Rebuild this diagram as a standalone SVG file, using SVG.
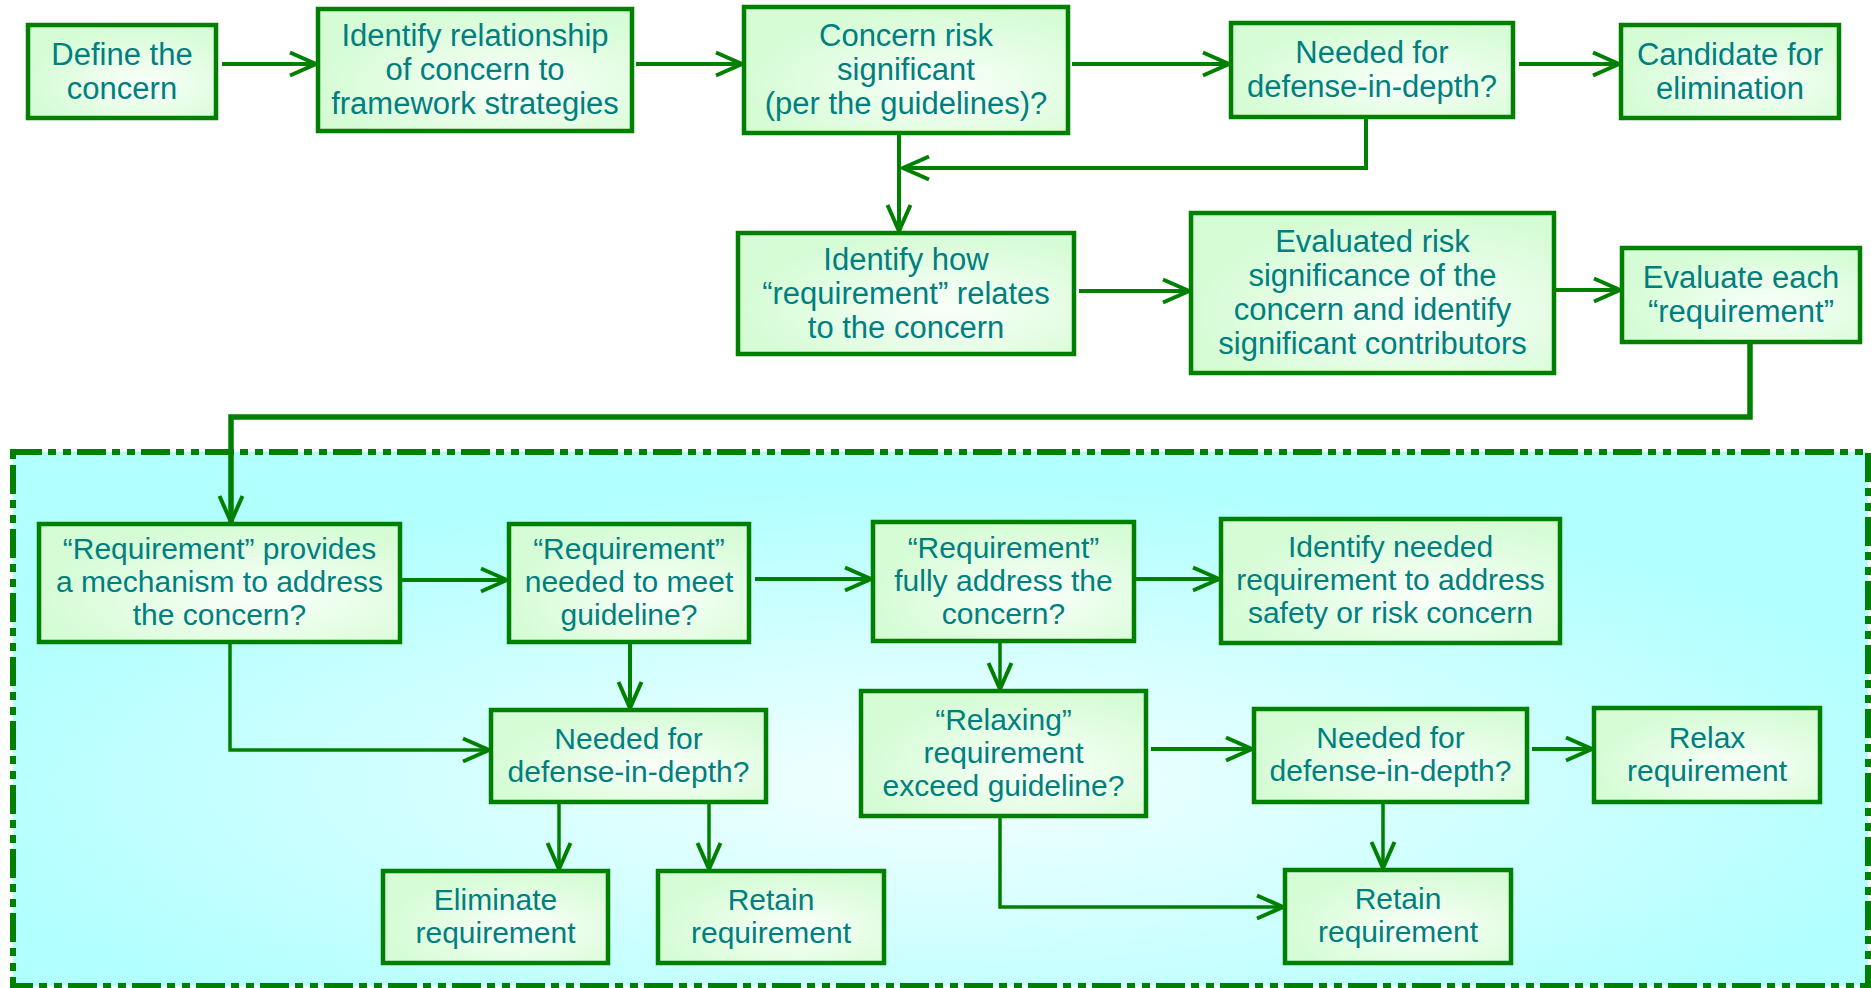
<svg xmlns="http://www.w3.org/2000/svg" width="1871" height="988" viewBox="0 0 1871 988">
<defs>
<radialGradient id="gNode" cx="0.62" cy="0.62" r="0.6">
<stop offset="0" stop-color="#fafffa"/>
<stop offset="1" stop-color="#d6fcd6"/>
</radialGradient>
<radialGradient id="gBox" cx="0.5" cy="0.62" r="0.55">
<stop offset="0" stop-color="#f4ffff"/>
<stop offset="1" stop-color="#b2ffff"/>
</radialGradient>
<marker id="arr" viewBox="0 0 28 24" refX="27" refY="12" markerWidth="28" markerHeight="24" markerUnits="userSpaceOnUse" orient="auto" overflow="visible">
<path d="M1,0.5 L27,12 L1,23.5" fill="none" stroke="#008000" stroke-width="4"/>
</marker>
</defs>
<style>
.n rect{fill:url(#gNode);stroke:#008000;stroke-width:4.5}
.n text{font-family:"Liberation Sans",Arial,sans-serif;font-size:31px;fill:#007f7f;text-anchor:middle}
.b text{font-size:30px}
.c path{fill:none;stroke:#008000;stroke-width:4;marker-end:url(#arr)}
.c path.thin{stroke-width:3.5}
.c path.thick{stroke-width:5.5}
</style>
<rect width="1871" height="988" fill="#ffffff"/>
<g id="container">
<rect x="13" y="452" width="1855" height="534" fill="url(#gBox)" stroke="#008000" stroke-width="6" stroke-dasharray="29 6 8 7 8 6"/>
</g>
<g id="connectors" class="c">
<path d="M222,64 H316"/>
<path d="M636,64 H742"/>
<path d="M1072,64 H1229"/>
<path d="M1519,64 H1619"/>
<path d="M1366,119 V168 H903"/>
<path d="M899,133 V231"/>
<path d="M1079,291 H1189"/>
<path d="M1556,290 H1620"/>
<path class="thick" d="M1750,342 V417 H231 V522"/>
<path d="M402,580 H507"/>
<path d="M755,579 H871"/>
<path d="M1136,579 H1219"/>
<path d="M630,644 V708"/>
<path class="thin" d="M230,644 V750 H489"/>
<path class="thin" d="M559,804 V869"/>
<path class="thin" d="M709,804 V869"/>
<path class="thin" d="M1000,643 V689"/>
<path d="M1151,749 H1252"/>
<path d="M1532,749 H1592"/>
<path class="thin" d="M1383,804 V868"/>
<path class="thin" d="M1000,818 V907 H1283"/>
</g>
<g id="n1" class="n"><rect x="28" y="25" width="188" height="93"/>
<text x="122" y="64.5">Define the</text><text x="122" y="98.5">concern</text></g>
<g id="n2" class="n"><rect x="318" y="9" width="314" height="122"/>
<text x="475" y="46">Identify relationship</text><text x="475" y="80">of concern to</text><text x="475" y="114">framework strategies</text></g>
<g id="n3" class="n"><rect x="744" y="7" width="324" height="126"/>
<text x="906" y="46">Concern risk</text><text x="906" y="80">significant</text><text x="906" y="114">(per the guidelines)?</text></g>
<g id="n4" class="n"><rect x="1231" y="23" width="282" height="94"/>
<text x="1372" y="63">Needed for</text><text x="1372" y="97">defense-in-depth?</text></g>
<g id="n5" class="n"><rect x="1621" y="25" width="218" height="93"/>
<text x="1730" y="64.5">Candidate for</text><text x="1730" y="98.5">elimination</text></g>
<g id="n6" class="n"><rect x="738" y="233" width="336" height="121"/>
<text x="906" y="270">Identify how</text><text x="906" y="304">“requirement” relates</text><text x="906" y="338">to the concern</text></g>
<g id="n7" class="n"><rect x="1191" y="213" width="363" height="160"/>
<text x="1372.5" y="252">Evaluated risk</text><text x="1372.5" y="286">significance of the</text><text x="1372.5" y="320">concern and identify</text><text x="1372.5" y="354">significant contributors</text></g>
<g id="n8" class="n"><rect x="1622" y="248" width="238" height="94"/>
<text x="1741" y="288">Evaluate each</text><text x="1741" y="322">“requirement”</text></g>
<g id="n9" class="n b"><rect x="39" y="524" width="361" height="118"/>
<text x="219.5" y="559">“Requirement” provides</text><text x="219.5" y="592">a mechanism to address</text><text x="219.5" y="625">the concern?</text></g>
<g id="n10" class="n b"><rect x="509" y="524" width="240" height="118"/>
<text x="629" y="559">“Requirement”</text><text x="629" y="592">needed to meet</text><text x="629" y="625">guideline?</text></g>
<g id="n11" class="n b"><rect x="873" y="522" width="261" height="119"/>
<text x="1003.5" y="557.5">“Requirement”</text><text x="1003.5" y="590.5">fully address the</text><text x="1003.5" y="623.5">concern?</text></g>
<g id="n12" class="n b"><rect x="1221" y="519" width="339" height="124"/>
<text x="1390.5" y="557">Identify needed</text><text x="1390.5" y="590">requirement to address</text><text x="1390.5" y="623">safety or risk concern</text></g>
<g id="n13" class="n b"><rect x="491" y="710" width="275" height="92"/>
<text x="628.5" y="748.5">Needed for</text><text x="628.5" y="781.5">defense-in-depth?</text></g>
<g id="n14" class="n b"><rect x="861" y="691" width="285" height="125"/>
<text x="1003.5" y="729.5">“Relaxing”</text><text x="1003.5" y="762.5">requirement</text><text x="1003.5" y="795.5">exceed guideline?</text></g>
<g id="n15" class="n b"><rect x="1254" y="709" width="273" height="93"/>
<text x="1390.5" y="748">Needed for</text><text x="1390.5" y="781">defense-in-depth?</text></g>
<g id="n16" class="n b"><rect x="1594" y="708" width="226" height="94"/>
<text x="1707" y="747.5">Relax</text><text x="1707" y="780.5">requirement</text></g>
<g id="n17" class="n b"><rect x="383" y="871" width="225" height="92"/>
<text x="495.5" y="909.5">Eliminate</text><text x="495.5" y="942.5">requirement</text></g>
<g id="n18" class="n b"><rect x="658" y="871" width="226" height="92"/>
<text x="771" y="909.5">Retain</text><text x="771" y="942.5">requirement</text></g>
<g id="n19" class="n b"><rect x="1285" y="870" width="226" height="93"/>
<text x="1398" y="909">Retain</text><text x="1398" y="942">requirement</text></g>
</svg>
